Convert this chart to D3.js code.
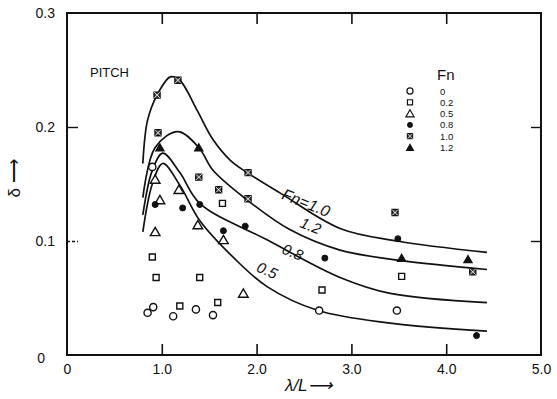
<!DOCTYPE html>
<html>
<head>
<meta charset="utf-8">
<script src="https://cdn.jsdelivr.net/npm/d3@7/dist/d3.min.js"></script>
<style>
  html, body { margin: 0; padding: 0; background: #fff; }
  svg { display: block; font-family: "Liberation Sans", Arial, sans-serif; }
</style>
</head>
<body>
<div id="chart"></div>
<script>
// --- data (x = λ/L, y = δ) ---
const fnLevels = ['0', '0.2', '0.5', '0.8', '1.0', '1.2'];
const xTicks = [0, 1, 2, 3, 4, 5];
const yTicks = [0, 0.1, 0.2, 0.3];

// measured points per Fn
const ptsFn00 = [[0.85, 0.037], [0.91, 0.042], [0.90, 0.165], [1.12, 0.034], [1.36, 0.040], [1.54, 0.035], [2.66, 0.039], [3.48, 0.039]];
const ptsFn02 = [[0.90, 0.086], [0.94, 0.068], [1.19, 0.043], [1.40, 0.068], [1.59, 0.046], [1.64, 0.133], [2.69, 0.057], [3.53, 0.069]];
const ptsFn05 = [[0.93, 0.154], [0.98, 0.136], [0.93, 0.108], [1.18, 0.145], [1.38, 0.114], [1.65, 0.101], [1.86, 0.054]];
const ptsFn08 = [[0.93, 0.132], [1.22, 0.129], [1.40, 0.132], [1.65, 0.109], [1.88, 0.113], [2.72, 0.085], [3.49, 0.102], [4.32, 0.017]];
const ptsFn10 = [[0.95, 0.228], [0.96, 0.195], [1.17, 0.241], [1.39, 0.156], [1.60, 0.145], [1.91, 0.160], [1.91, 0.137], [3.46, 0.125], [4.28, 0.073]];
const ptsFn12 = [[0.98, 0.182], [1.39, 0.182], [3.53, 0.085], [4.23, 0.084]];

// hand-drawn fitted curves
const curveFn10 = [[0.80, 0.168], [0.85, 0.206], [0.95, 0.228], [1.09, 0.244], [1.19, 0.241], [1.37, 0.215], [1.54, 0.189], [1.72, 0.171], [1.90, 0.160], [2.25, 0.142], [2.88, 0.111], [3.48, 0.100], [4.43, 0.090]];
const curveFn12 = [[0.80, 0.138], [0.93, 0.182], [1.17, 0.196], [1.39, 0.182], [1.54, 0.162], [1.90, 0.136], [2.35, 0.110], [2.88, 0.092], [3.51, 0.083], [4.43, 0.075]];
const curveFn08 = [[0.80, 0.123], [0.90, 0.162], [1.01, 0.177], [1.19, 0.160], [1.40, 0.133], [2.11, 0.101], [2.88, 0.068], [3.41, 0.054], [4.43, 0.046]];
const curveFn05 = [[0.80, 0.108], [0.90, 0.150], [1.01, 0.168], [1.19, 0.149], [1.40, 0.118], [1.75, 0.086], [2.11, 0.060], [2.65, 0.039], [3.41, 0.028], [4.43, 0.021]];
const curveLabels = ['Fn=1.0', '1.2', '0.8', '0.5'];

const W = 557, H = 399;
const svg = d3.select('#chart').append('svg').attr('width', W).attr('height', H);

const x = d3.scaleLinear().domain([0, 5]).range([67, 541]);
const y = d3.scaleLinear().domain([0, 0.3]).range([355, 13]);

// --- frame ---
svg.append('rect')
  .attr('x', x(0)).attr('y', y(0.3))
  .attr('width', x(5) - x(0)).attr('height', y(0) - y(0.3))
  .attr('fill', 'none').attr('stroke', '#111').attr('stroke-width', 2);

// --- axes (inner ticks) ---
const fmt = d => d === 0 ? '0' : d3.format('.1f')(d);

const xAxis = svg.append('g')
  .attr('transform', `translate(0,${y(0)})`)
  .call(d3.axisBottom(x).tickValues(xTicks).tickSize(-11).tickPadding(9).tickFormat(fmt));
xAxis.select('.domain').remove();
xAxis.selectAll('text').style('font-size', '14px').attr('fill', '#111');
xAxis.selectAll('line').attr('stroke', '#111').attr('stroke-width', 1.6)
  .filter(d => d === 0 || d === 5).remove();

svg.append('g')
  .attr('transform', `translate(0,${y(0.3)})`)
  .call(d3.axisTop(x).tickValues([1, 2, 3, 4]).tickSize(-11).tickFormat(''))
  .call(g => g.select('.domain').remove())
  .selectAll('line').attr('stroke', '#111').attr('stroke-width', 1.6);

const yAxis = svg.append('g')
  .attr('transform', `translate(${x(0)},0)`)
  .call(d3.axisLeft(y).tickValues(yTicks).tickSize(-11).tickPadding(12).tickFormat(fmt));
yAxis.select('.domain').remove();
yAxis.selectAll('text').style('font-size', '14px').attr('fill', '#111')
  .filter(d => d === 0).attr('dx', -10).attr('dy', '0.5em');
yAxis.selectAll('line').attr('stroke', '#111').attr('stroke-width', 1.4)
  .filter(d => d === 0 || d === 0.3).remove();
yAxis.selectAll('line').filter(d => d === 0.1).attr('stroke-dasharray', '3,2');

svg.append('g')
  .attr('transform', `translate(${x(5)},0)`)
  .call(d3.axisRight(y).tickValues([0.1, 0.2]).tickSize(-10).tickFormat(''))
  .call(g => g.select('.domain').remove())
  .selectAll('line').attr('stroke', '#111').attr('stroke-width', 1.4);

// --- axis titles ---
svg.append('text')
  .attr('transform', `translate(20,${y(0.155)}) rotate(-90)`)
  .attr('text-anchor', 'middle')
  .style('font-size', '17px').attr('fill', '#111')
  .text('δ ⟶');

svg.append('text')
  .attr('x', x(2.3)).attr('y', 391)
  .attr('text-anchor', 'start')
  .style('font-size', '17px').style('font-style', 'italic').attr('fill', '#111')
  .text('λ/L⟶');

svg.append('text')
  .attr('x', 90).attr('y', 77)
  .style('font-size', '13px').attr('fill', '#111')
  .text('PITCH');

// --- curves ---
const line = d3.line()
  .x(d => x(d[0]))
  .y(d => y(d[1]))
  .curve(d3.curveCatmullRom.alpha(0.5));

[curveFn10, curveFn12, curveFn08, curveFn05].forEach(c => {
  svg.append('path')
    .datum(c)
    .attr('fill', 'none')
    .attr('stroke', '#111')
    .attr('stroke-width', 1.7)
    .attr('d', line);
});

// curve labels: [x, y, angle, size]
const labelPos = [[2.5, 0.129, 22, 16], [2.55, 0.109, 22, 15], [2.36, 0.086, 22, 15], [2.09, 0.070, 24, 15]];
curveLabels.forEach((t, i) => {
  const p = labelPos[i];
  svg.append('text')
    .attr('transform', `translate(${x(p[0])},${y(p[1])}) rotate(${p[2]})`)
    .attr('text-anchor', 'middle')
    .style('font-size', p[3] + 'px').style('font-style', 'italic')
    .attr('fill', '#111')
    .text(t);
});

// --- markers ---
const tri = d3.symbol().type(d3.symbolTriangle).size(40);
const triSolid = d3.symbol().type(d3.symbolTriangle).size(30);
const sq = d3.symbol().type(d3.symbolSquare).size(36);

function marker(g, kind) {
  if (kind === 0) {
    g.append('circle').attr('r', 3.6).attr('fill', '#fff').attr('stroke', '#111').attr('stroke-width', 1.4);
  } else if (kind === 1) {
    g.append('path').attr('d', sq).attr('fill', '#fff').attr('stroke', '#111').attr('stroke-width', 1.4);
  } else if (kind === 2) {
    g.append('path').attr('d', tri).attr('transform', 'translate(0,1)').attr('fill', '#fff').attr('stroke', '#111').attr('stroke-width', 1.4);
  } else if (kind === 3) {
    g.append('circle').attr('r', 3).attr('fill', '#111').attr('stroke', '#111').attr('stroke-width', 1);
  } else if (kind === 4) {
    g.append('path').attr('d', sq).attr('fill', '#444').attr('stroke', '#111').attr('stroke-width', 1.4);
    g.append('path').attr('d', 'M-3,-3L3,3M-3,3L3,-3').attr('stroke', '#fff').attr('stroke-width', 0.8);
  } else {
    g.append('path').attr('d', triSolid).attr('transform', 'translate(0,1)').attr('fill', '#111').attr('stroke', '#111').attr('stroke-width', 1.2);
  }
}

[ptsFn00, ptsFn02, ptsFn05, ptsFn08, ptsFn10, ptsFn12].forEach((pts, k) => {
  pts.forEach(d => {
    const g = svg.append('g').attr('transform', `translate(${x(d[0])},${y(d[1])})`);
    marker(g, k);
  });
});

// --- legend ---
svg.append('text')
  .attr('x', 437).attr('y', 80)
  .style('font-size', '15px').attr('fill', '#111')
  .text('Fn');

fnLevels.forEach((lv, i) => {
  const yy = 91 + i * 11.3;
  const g = svg.append('g').attr('transform', `translate(410,${yy}) scale(0.85)`);
  marker(g, i);
  svg.append('text')
    .attr('x', 440).attr('y', yy + 3.5)
    .style('font-size', '9.5px').attr('fill', '#111')
    .text(lv);
});
</script>
</body>
</html>
